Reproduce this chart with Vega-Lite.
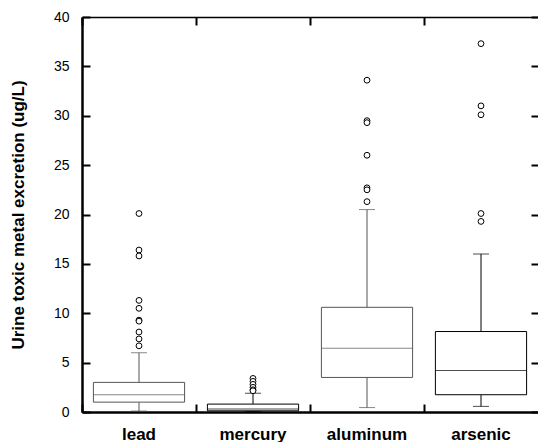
{
  "$schema": "https://vega.github.io/schema/vega-lite/v6.json",
  "width": 456,
  "height": 395,
  "autosize": {"type": "none"},
  "padding": {"left": 82, "top": 17, "right": 0, "bottom": 30},
  "background": "white",
  "config": {
    "view": {"stroke": null},
    "axis": {"grid": false, "domainColor": "black", "tickColor": "black", "labelColor": "black", "titleColor": "black", "labelFont": "Liberation Sans", "titleFont": "Liberation Sans"}
  },
  "datasets": {
    "stats": [
      {"metal": "lead", "lower": 0.1, "q1": 1.0, "median": 1.75, "q3": 3.0, "upper": 6.0},
      {"metal": "mercury", "lower": 0.05, "q1": 0.12, "median": 0.3, "q3": 0.8, "upper": 1.9},
      {"metal": "aluminum", "lower": 0.45, "q1": 3.5, "median": 6.45, "q3": 10.6, "upper": 20.5},
      {"metal": "arsenic", "lower": 0.57, "q1": 1.75, "median": 4.2, "q3": 8.15, "upper": 16.0}
    ],
    "outliers": [
      {"metal": "lead", "value": 20.1},
      {"metal": "lead", "value": 16.4},
      {"metal": "lead", "value": 15.8},
      {"metal": "lead", "value": 11.3},
      {"metal": "lead", "value": 10.5},
      {"metal": "lead", "value": 9.3},
      {"metal": "lead", "value": 9.2},
      {"metal": "lead", "value": 8.1},
      {"metal": "lead", "value": 7.4},
      {"metal": "lead", "value": 6.7},
      {"metal": "mercury", "value": 3.4},
      {"metal": "mercury", "value": 3.1},
      {"metal": "mercury", "value": 2.8},
      {"metal": "mercury", "value": 2.5},
      {"metal": "mercury", "value": 2.25},
      {"metal": "mercury", "value": 2.15},
      {"metal": "aluminum", "value": 33.6},
      {"metal": "aluminum", "value": 29.5},
      {"metal": "aluminum", "value": 29.3},
      {"metal": "aluminum", "value": 26.0},
      {"metal": "aluminum", "value": 22.7},
      {"metal": "aluminum", "value": 22.5},
      {"metal": "aluminum", "value": 21.3},
      {"metal": "arsenic", "value": 37.3},
      {"metal": "arsenic", "value": 31.0},
      {"metal": "arsenic", "value": 30.1},
      {"metal": "arsenic", "value": 20.1},
      {"metal": "arsenic", "value": 19.3}
    ]
  },
  "resolve": {"axis": {"x": "independent", "y": "independent"}},
  "layer": [
    {
      "data": {"name": "stats"},
      "mark": {"type": "rule", "strokeWidth": 1},
      "encoding": {
        "x": {"field": "metal", "type": "nominal", "sort": null,
              "scale": {"domain": ["lead", "mercury", "aluminum", "arsenic"], "paddingInner": 0, "paddingOuter": 0},
              "axis": {"orient": "bottom", "title": null, "labelAngle": 0, "bandPosition": 0, "domainWidth": 2.5, "tickSize": -8, "tickWidth": 2, "labelPadding": 22, "labelFontSize": 17, "labelFontWeight": "bold", "labelBaseline": "top"}},
        "y": {"field": "lower", "type": "quantitative",
              "scale": {"domain": [0, 40], "nice": false, "zero": true},
              "axis": {"orient": "left", "values": [0, 5, 10, 15, 20, 25, 30, 35, 40], "domainWidth": 2.5, "tickSize": -8, "tickWidth": 2, "labelPadding": 21, "labelFontSize": 14, "title": "Urine toxic metal excretion (ug/L)", "titleFontSize": 17, "titleFontWeight": "bold", "titleX": -64, "titleY": 197.5, "titleAngle": -90, "titleAlign": "center", "titleBaseline": "middle"}},
        "y2": {"field": "q1"},
        "stroke": {"condition": {"test": "datum.metal === 'lead' || datum.metal === 'aluminum'", "value": "#555555"}, "value": "black"}
      }
    },
    {
      "data": {"name": "stats"},
      "mark": {"type": "rule", "strokeWidth": 1},
      "encoding": {
        "x": {"field": "metal", "type": "nominal", "sort": null,
              "axis": {"orient": "top", "title": null, "labels": false, "bandPosition": 0, "domainWidth": 1.5, "tickSize": -8, "tickWidth": 2}},
        "y": {"field": "q3", "type": "quantitative",
              "axis": {"orient": "right", "values": [0, 5, 10, 15, 20, 25, 30, 35, 40], "labels": false, "title": null, "domain": false, "tickSize": -7, "tickWidth": 2}},
        "y2": {"field": "upper"},
        "stroke": {"condition": {"test": "datum.metal === 'lead' || datum.metal === 'aluminum'", "value": "#555555"}, "value": "black"}
      }
    },
    {
      "data": {"name": "stats"},
      "mark": {"type": "bar", "fill": "white", "strokeWidth": 1, "width": {"band": 0.8}},
      "encoding": {
        "x": {"field": "metal", "type": "nominal", "sort": null, "axis": null},
        "y": {"field": "q1", "type": "quantitative", "axis": null},
        "y2": {"field": "q3"},
        "stroke": {"condition": {"test": "datum.metal === 'lead' || datum.metal === 'aluminum'", "value": "#555555"}, "value": "black"}
      }
    },
    {
      "data": {"name": "stats"},
      "mark": {"type": "tick", "thickness": 1, "size": 91},
      "encoding": {
        "x": {"field": "metal", "type": "nominal", "sort": null, "axis": null},
        "y": {"field": "median", "type": "quantitative", "axis": null},
        "color": {"condition": {"test": "datum.metal === 'lead' || datum.metal === 'aluminum'", "value": "#555555"}, "value": "black"}
      }
    },
    {
      "data": {"name": "stats"},
      "mark": {"type": "tick", "thickness": 1, "size": 16},
      "encoding": {
        "x": {"field": "metal", "type": "nominal", "sort": null, "axis": null},
        "y": {"field": "upper", "type": "quantitative", "axis": null},
        "color": {"condition": {"test": "datum.metal === 'lead' || datum.metal === 'aluminum'", "value": "#555555"}, "value": "black"}
      }
    },
    {
      "data": {"name": "stats"},
      "mark": {"type": "tick", "thickness": 1, "size": 16},
      "encoding": {
        "x": {"field": "metal", "type": "nominal", "sort": null, "axis": null},
        "y": {"field": "lower", "type": "quantitative", "axis": null},
        "color": {"condition": {"test": "datum.metal === 'lead' || datum.metal === 'aluminum'", "value": "#555555"}, "value": "black"}
      }
    },
    {
      "data": {"name": "outliers"},
      "mark": {"type": "point", "shape": "circle", "filled": false, "fill": "white", "stroke": "black", "strokeWidth": 1, "size": 34, "opacity": 1},
      "encoding": {
        "x": {"field": "metal", "type": "nominal", "sort": null, "axis": null},
        "y": {"field": "value", "type": "quantitative", "axis": null}
      }
    }
  ]
}
